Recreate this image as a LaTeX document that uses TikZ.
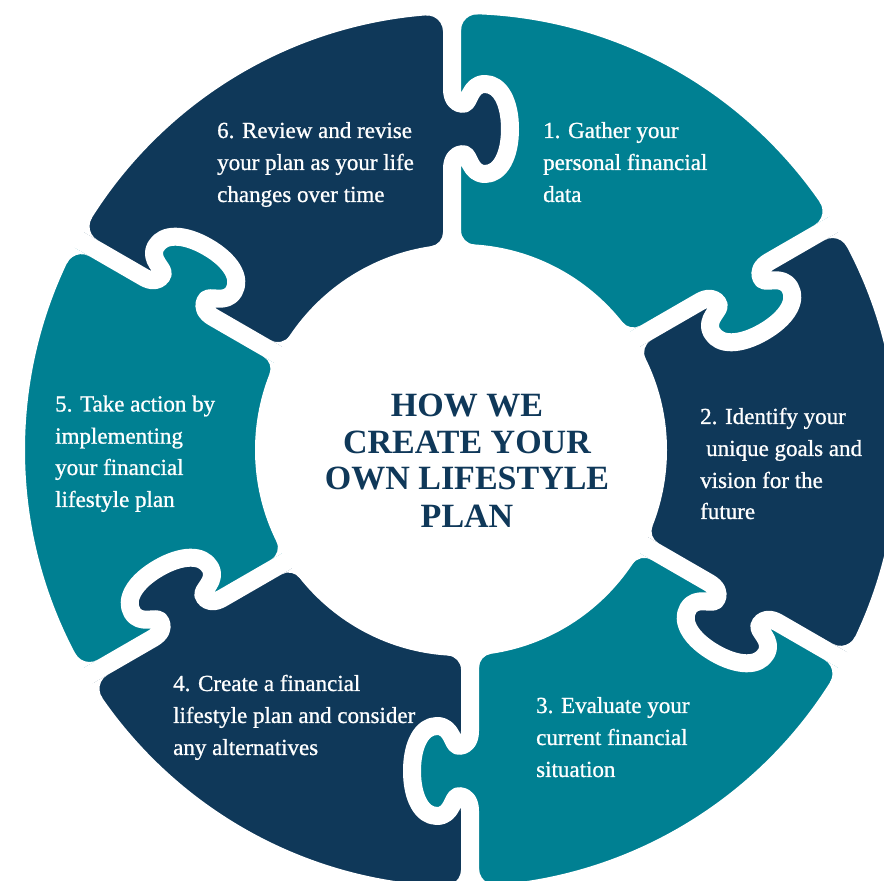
\documentclass[tikz,border=0pt]{standalone}
\usepackage{fontspec}
\setmainfont{Liberation Serif}
\newfontfamily\bodyfont[FakeBold=0.9]{Liberation Serif}
\usetikzlibrary{calc}
\definecolor{tealc}{RGB}{0,128,146}
\definecolor{navyc}{RGB}{15,56,89}
\def\Rout{436}
\def\Rin{206}
\def\gapoff{9}
\def\halfgap{9}
\def\knobpos{321}
\def\rfo{16}
\def\rfi{14}
\pgfmathsetmacro\edgA{\gapoff+\halfgap}
\pgfmathsetmacro\edgB{\gapoff-\halfgap}
\pgfmathsetmacro\cxOA{100*sqrt(((\Rout-\rfo)/100)^2-((\edgA+\rfo)/100)^2)}
\pgfmathsetmacro\phiOA{atan2(\edgA+\rfo,\cxOA)}
\pgfmathsetmacro\cxOB{100*sqrt(((\Rout-\rfo)/100)^2-((\edgB-\rfo)/100)^2)}
\pgfmathsetmacro\phiOB{atan2(\edgB-\rfo,\cxOB)}
\pgfmathsetmacro\cxIA{100*sqrt(((\Rin+\rfi)/100)^2-((\edgA+\rfi)/100)^2)}
\pgfmathsetmacro\psiIA{atan2(\edgA+\rfi,\cxIA)}
\pgfmathsetmacro\cxIB{100*sqrt(((\Rin+\rfi)/100)^2-((\edgB-\rfi)/100)^2)}
\pgfmathsetmacro\psiIB{atan2(\edgB-\rfi,\cxIB)}
\tikzset{
  knobcurve/.style={insert path={
    .. controls (\knobpos-31,\gapoff) and (\knobpos-25,\gapoff-4) .. (\knobpos-25,\gapoff-11)
    .. controls (\knobpos-25,\gapoff-18) and (\knobpos-45,\gapoff-17) .. (\knobpos-45,\gapoff-33)
    .. controls (\knobpos-45,\gapoff-48) and (\knobpos-27,\gapoff-58) .. (\knobpos,\gapoff-58)
    .. controls (\knobpos+27,\gapoff-58) and (\knobpos+45,\gapoff-48) .. (\knobpos+45,\gapoff-33)
    .. controls (\knobpos+45,\gapoff-17) and (\knobpos+25,\gapoff-18) .. (\knobpos+25,\gapoff-11)
    .. controls (\knobpos+25,\gapoff-4) and (\knobpos+31,\gapoff) .. (\knobpos+40,\gapoff)
  }},
  gapline/.style={draw=white, line width=18pt, line join=round},
  bodytext/.style={text=white, font=\bodyfont\fontsize{23}{28}\selectfont, anchor=base west, inner sep=0pt},
  titletext/.style={text=navyc, font=\bfseries\fontsize{34}{40}\selectfont, anchor=base, inner sep=0pt},
}
\newcommand\gapknob[2]{%
  \begin{scope}[shift={(C)}, rotate=#1]
    \fill[#2] (\knobpos-40,\gapoff) [knobcurve] -- (\knobpos+40,\gapoff+8) -- (\knobpos-40,\gapoff+8) -- cycle;
    \draw[gapline] (\Rin-40,\gapoff) -- (\knobpos-40,\gapoff) [knobcurve] -- (\Rout+40,\gapoff);
  \end{scope}}
\newcommand\gapmask[1]{%
  \begin{scope}[shift={(C)}, rotate=#1]
    \fill[white] (\cxOA,\edgA) -- (\Rout+40,\edgA) -- ({\phiOA}:{\Rout+40}) -- ({\phiOA}:{\Rout})
      arc[start angle=\phiOA, end angle=-90, radius=\rfo] -- cycle;
    \fill[white] (\cxOB,\edgB) -- (\Rout+40,\edgB) -- ({\phiOB}:{\Rout+40}) -- ({\phiOB}:{\Rout})
      arc[start angle=\phiOB, end angle=90, radius=\rfo] -- cycle;
    \fill[white] (\cxIA,\edgA) -- (\Rin-40,\edgA) -- ({\psiIA}:{\Rin-40}) -- ({\psiIA}:{\Rin})
      arc[start angle=\psiIA+180, end angle=270, radius=\rfi] -- cycle;
    \fill[white] (\cxIB,\edgB) -- (\Rin-40,\edgB) -- ({\psiIB}:{\Rin-40}) -- ({\psiIB}:{\Rin})
      arc[start angle=\psiIB+180, end angle=90, radius=\rfi] -- cycle;
  \end{scope}}
\newcommand\gapends[2]{%
  \begin{scope}[shift={(C)}, rotate=#1]
    \coordinate (i#2) at (100,\gapoff);
    \coordinate (o#2) at (580,\gapoff);
  \end{scope}}
\begin{document}
\begin{tikzpicture}[x=1pt,y=1pt]
\useasboundingbox (0,0) rectangle (884,881);
\fill[white] (0,0) rectangle (884,881);
\clip (0,0) rectangle (884,881);
\coordinate (C) at (461,431);
\gapends{90}{1}
\gapends{30}{2}
\gapends{-30}{3}
\gapends{-90}{4}
\gapends{-150}{5}
\gapends{150}{6}
% pieces
\fill[tealc] (i1) -- (o1) -- ($(C)+(60:640)$) -- (o2) -- (i2) -- cycle;
\fill[navyc] (i2) -- (o2) -- ($(C)+(0:640)$) -- (o3) -- (i3) -- cycle;
\fill[tealc] (i3) -- (o3) -- ($(C)+(-60:640)$) -- (o4) -- (i4) -- cycle;
\fill[navyc] (i4) -- (o4) -- ($(C)+(-120:640)$) -- (o5) -- (i5) -- cycle;
\fill[tealc] (i5) -- (o5) -- ($(C)+(180:640)$) -- (o6) -- (i6) -- cycle;
\fill[navyc] (i6) -- (o6) -- ($(C)+(120:640)$) -- (o1) -- (i1) -- cycle;
% knobs and gaps
\gapknob{90}{navyc}
\gapknob{30}{tealc}
\gapknob{-30}{navyc}
\gapknob{-90}{tealc}
\gapknob{-150}{navyc}
\gapknob{150}{tealc}
% ring limits
\fill[white, even odd rule] (C) circle[radius=\Rout] (-50,-50) rectangle (950,950);
\fill[white] (C) circle[radius=\Rin];
\gapmask{90}
\gapmask{30}
\gapmask{-30}
\gapmask{-90}
\gapmask{-150}
\gapmask{150}
% texts
\node[bodytext] (t6a) at (217,743) {6. Review and revise};
\node[bodytext] (t6b) at (217,711) {your plan as your life};
\node[bodytext] (t6c) at (217,679) {changes over time};
\node[bodytext] (t1a) at (543,743) {1. Gather your};
\node[bodytext] (t1b) at (543,711) {personal financial};
\node[bodytext] (t1c) at (543,679) {data};
\node[bodytext] (t2a) at (700,457) {2. Identify your};
\node[bodytext] (t2b) at (706,425) {unique goals and};
\node[bodytext] (t2c) at (700,393) {vision for the};
\node[bodytext] (t2d) at (700,362) {future};
\node[bodytext] (t3a) at (536,168) {3. Evaluate your};
\node[bodytext] (t3b) at (536,136) {current financial};
\node[bodytext] (t3c) at (536,104) {situation};
\node[bodytext] (t4a) at (173,190) {4. Create a financial};
\node[bodytext] (t4b) at (173,158) {lifestyle plan and consider};
\node[bodytext] (t4c) at (173,126) {any alternatives};
\node[bodytext] (t5a) at (55,469.5) {5. Take action by};
\node[bodytext] (t5b) at (55,437.4) {implementing};
\node[bodytext] (t5c) at (55,406) {your financial};
\node[bodytext] (t5d) at (55,374) {lifestyle plan};
\node[titletext] (h1) at (467,464) {HOW WE};
\node[titletext] (h2) at (467,427) {CREATE YOUR};
\node[titletext] (h3) at (467,391) {OWN LIFESTYLE};
\node[titletext] (h4) at (467,353) {PLAN};
\end{tikzpicture}
\end{document}
